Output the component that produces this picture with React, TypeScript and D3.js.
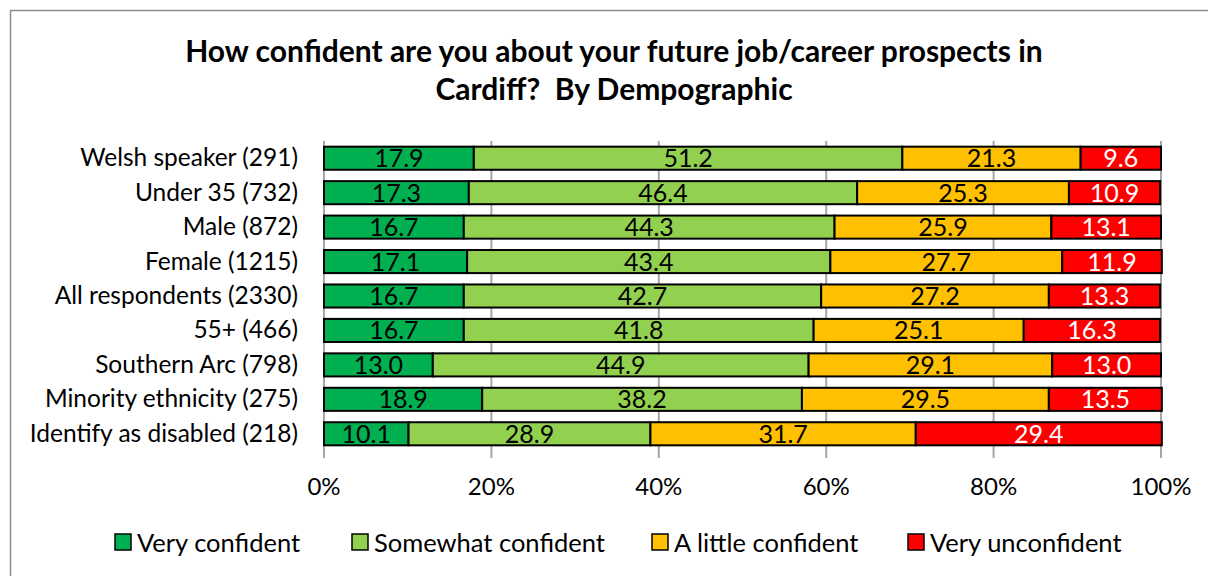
import * as d3 from "d3";

const groups = [
  "Welsh speaker (291)",
  "Under 35 (732)",
  "Male (872)",
  "Female (1215)",
  "All respondents (2330)",
  "55+ (466)",
  "Southern Arc (798)",
  "Minority ethnicity (275)",
  "Identify as disabled (218)",
];

const veryConfident = [17.9, 17.3, 16.7, 17.1, 16.7, 16.7, 13.0, 18.9, 10.1];
const somewhatConfident = [51.2, 46.4, 44.3, 43.4, 42.7, 41.8, 44.9, 38.2, 28.9];
const littleConfident = [21.3, 25.3, 25.9, 27.7, 27.2, 25.1, 29.1, 29.5, 31.7];
const veryUnconfident = [9.6, 10.9, 13.1, 11.9, 13.3, 16.3, 13.0, 13.5, 29.4];

const seriesNames = ["Very confident", "Somewhat confident", "A little confident", "Very unconfident"];
const seriesColors = ["#00B050", "#92D050", "#FFC000", "#FF0000"];
const labelColors = ["#000", "#000", "#000", "#fff"];
const xTicks = [0, 20, 40, 60, 80, 100];

const W = 1208;
const H = 576;
const FONT = "Lato, 'Open Sans', sans-serif";

export default function App() {
  const keys = ["vc", "sc", "lc", "vu"];
  const rows = groups.map((g, i) => ({
    group: g,
    vc: veryConfident[i],
    sc: somewhatConfident[i],
    lc: littleConfident[i],
    vu: veryUnconfident[i],
  }));
  const stacked = d3.stack<any>().keys(keys)(rows);

  const x = d3.scaleLinear().domain([0, 100]).range([324, 1161]);
  const y = d3
    .scaleBand()
    .domain(groups)
    .range([141, 451])
    .paddingInner(0.33)
    .paddingOuter(0.165);

  const legendX = [115, 352, 652, 908];

  return (
    <svg
      width={W}
      height={H}
      style={{ position: "absolute", left: 0, top: 0, background: "#fff" }}
      fontFamily={FONT}
    >
      <rect x={10.5} y={10.5} width={W + 10} height={H + 10} fill="#fff" stroke="#8c8c8c" strokeWidth={1.5} />

      <text x={614} y={62} textAnchor="middle" fontSize={30} fontWeight="bold">
        How confident are you about your future job/career prospects in
      </text>
      <text x={614} y={100} textAnchor="middle" fontSize={30} fontWeight="bold" style={{ whiteSpace: "pre" }}>
        {"Cardiff?  By Dempographic"}
      </text>

      {/* gridlines */}
      {xTicks.map((t) => (
        <line key={t} x1={x(t)} x2={x(t)} y1={141} y2={458} stroke="#a6a6a6" strokeWidth={2} />
      ))}

      {/* bars */}
      {stacked.map((s, si) =>
        s.map((d, i) => (
          <rect
            key={si + "-" + i}
            x={x(d[0])}
            y={y(groups[i])!}
            width={x(d[1]) - x(d[0])}
            height={y.bandwidth()}
            fill={seriesColors[si]}
            stroke="#000"
            strokeWidth={2}
          />
        ))
      )}

      {/* value labels */}
      {stacked.map((s, si) =>
        s.map((d, i) => (
          <text
            key={"l" + si + "-" + i}
            x={(x(d[0]) + x(d[1])) / 2}
            y={y(groups[i])! + y.bandwidth() / 2 + 9}
            textAnchor="middle"
            fontSize={25}
            fill={labelColors[si]}
          >
            {(d[1] - d[0]).toFixed(1)}
          </text>
        ))
      )}

      {/* category labels */}
      {groups.map((g) => (
        <text key={g} x={298} y={y(g)! + y.bandwidth() / 2 + 8} textAnchor="end" fontSize={24.5}>
          {g}
        </text>
      ))}

      {/* x axis labels */}
      {xTicks.map((t) => (
        <text key={"t" + t} x={x(t)} y={495} textAnchor="middle" fontSize={24}>
          {t}%
        </text>
      ))}

      {/* legend */}
      {seriesNames.map((n, i) => (
        <g key={n}>
          <rect x={legendX[i]} y={534} width={16} height={16} fill={seriesColors[i]} stroke="#000" strokeWidth={1.5} />
          <text x={legendX[i] + 22} y={552} fontSize={25.5}>
            {n}
          </text>
        </g>
      ))}
    </svg>
  );
}
